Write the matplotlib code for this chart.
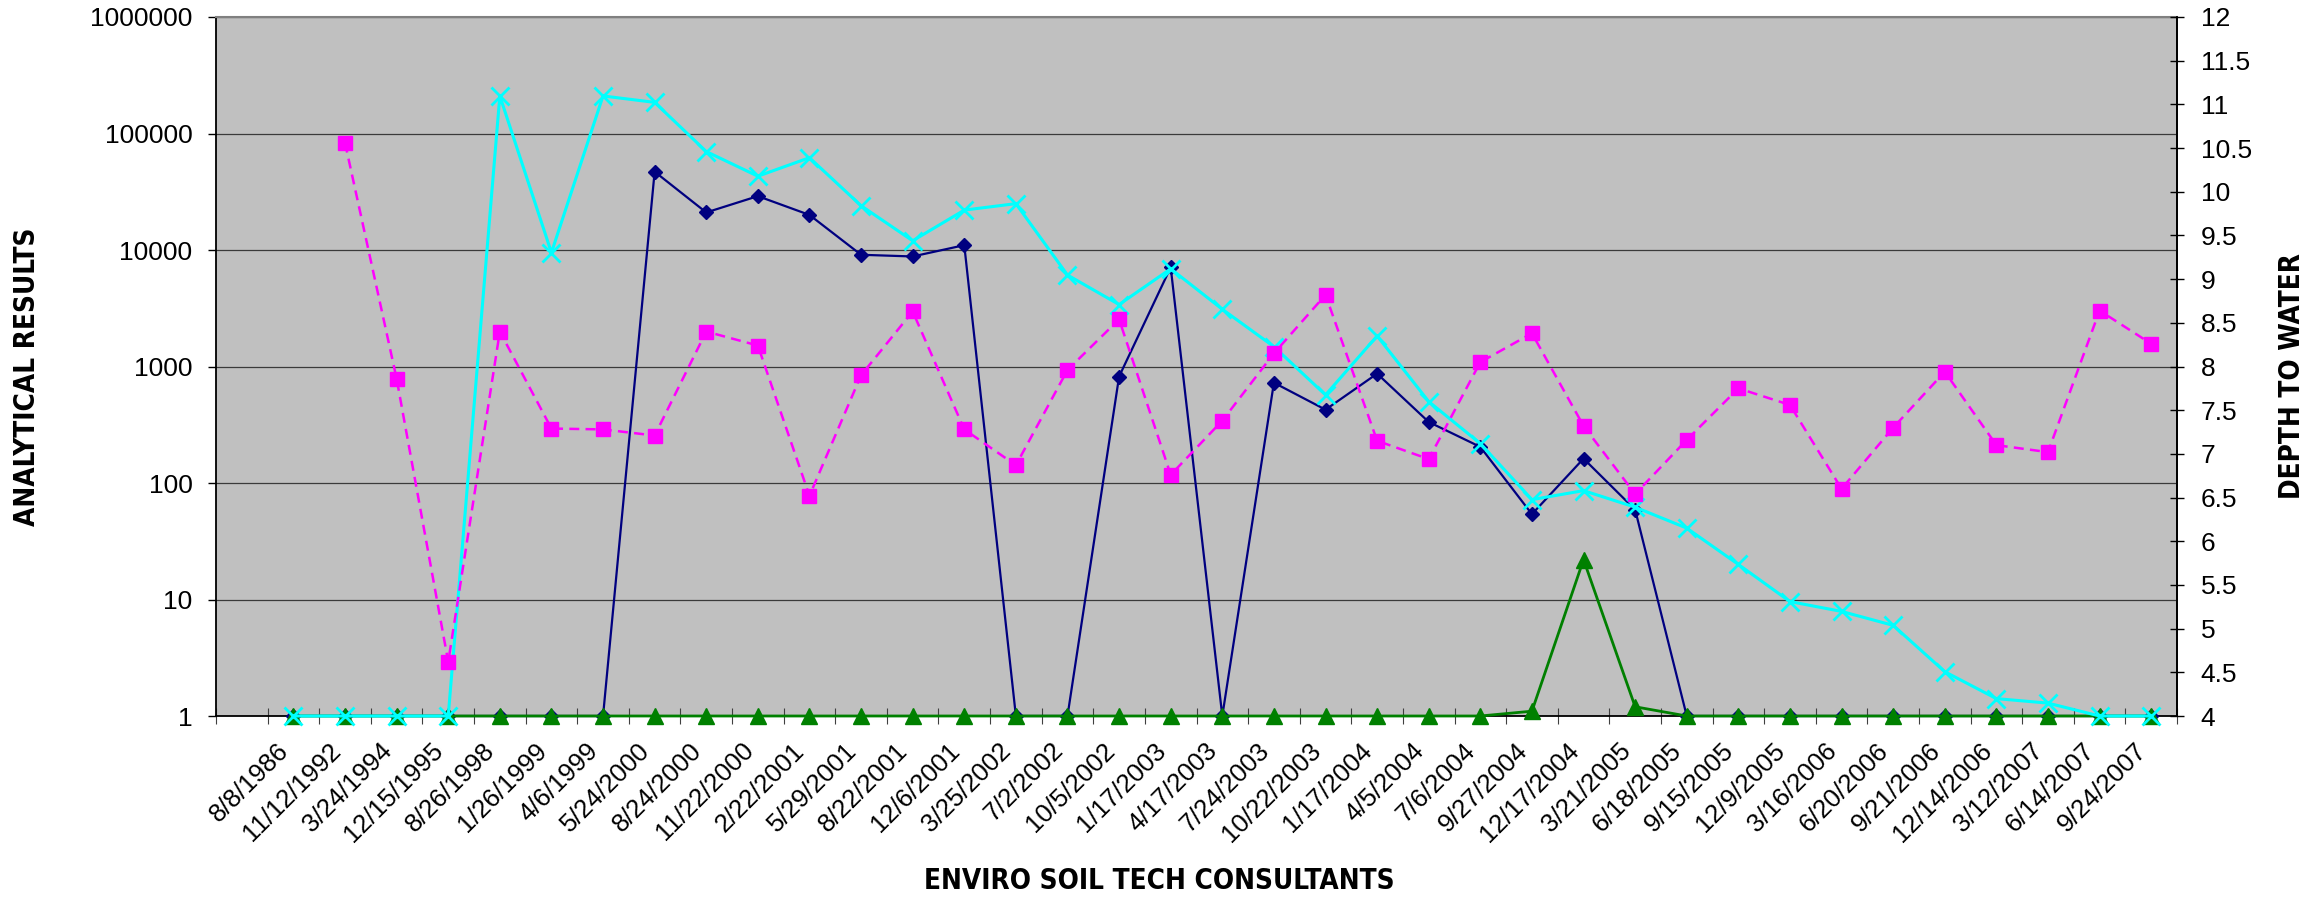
import numpy as np
import matplotlib
matplotlib.use("Agg")
import matplotlib.pyplot as plt
from matplotlib import font_manager as fm
from matplotlib.ticker import FixedLocator, NullLocator

nan = np.nan

dates = ["", "8/8/1986", "11/12/1992", "3/24/1994", "12/15/1995", "8/26/1998",
         "1/26/1999", "4/6/1999", "5/24/2000", "8/24/2000", "11/22/2000",
         "2/22/2001", "5/29/2001", "8/22/2001", "12/6/2001", "3/25/2002",
         "7/2/2002", "10/5/2002", "1/17/2003", "4/17/2003", "7/24/2003",
         "10/22/2003", "1/17/2004", "4/5/2004", "7/6/2004", "9/27/2004",
         "12/17/2004", "3/21/2005", "6/18/2005", "9/15/2005", "12/9/2005",
         "3/16/2006", "6/20/2006", "9/21/2006", "12/14/2006", "3/12/2007",
         "6/14/2007", "9/24/2007"]

navy_series = [nan, 1, 1, 1, 1, 1, 1, 1,
               47000, 21000, 29000, 20000, 9100, 8800, 11000,
               1, 1, 820, 7100, 1,
               726, 426, 868, 334, 204, 54, 162, 59,
               1, 1, 1, 1, 1, 1, 1, 1, 1, 1]

green_series = [nan] + [1] * 24 + [1.1, 22, 1.2] + [1] * 10

cyan_series = [nan, 1, 1, 1, 1,
               210000, 9500, 210000, 185000, 70000, 43000, 62000, 24000,
               12000, 22000, 25000,
               6100, 3400, 6900, 3100, 1480, 570, 1830, 500, 218, 72, 86, 62, 41,
               20, 9.6, 7.9, 6.0, 2.4, 1.41, 1.29, 1, 1]

depth_to_water = [nan, nan, 10.56, 7.86, 4.62, 8.40, 7.29, 7.28, 7.21, 8.40,
                  8.24, 6.52, 7.90, 8.63, 7.28, 6.87, 7.96, 8.54, 6.76, 7.38,
                  8.15, 8.82, 7.15, 6.94, 8.05, 8.38, 7.32, 6.54, 7.16, 7.75,
                  7.56, 6.60, 7.30, 7.94, 7.10, 7.02, 8.64, 8.26]

left_ticks = [1, 10, 100, 1000, 10000, 100000, 1000000]
right_ticks = [4, 4.5, 5, 5.5, 6, 6.5, 7, 7.5, 8, 8.5, 9, 9.5, 10, 10.5, 11, 11.5, 12]

# fonts
names = {f.name for f in fm.fontManager.ttflist}
base_font = "Liberation Sans" if "Liberation Sans" in names else "DejaVu Sans"
if "Liberation Sans Narrow" in names:
    title_kw = dict(family="Liberation Sans Narrow", fontweight="bold")
else:
    title_kw = dict(family="DejaVu Sans", fontweight="bold", fontstretch="condensed")
plt.rcParams["font.family"] = [base_font, "DejaVu Sans"]

W, H = 2322, 898
fig = plt.figure(figsize=(W / 100, H / 100), dpi=100)
L, R, T, B = 216, 2177, 17, 716
ax = fig.add_axes([L / W, 1 - B / H, (R - L) / W, (B - T) / H])
ax.set_facecolor("#C0C0C0")

x = np.arange(len(dates))

ax.plot(x, navy_series, color="#000080", lw=1.6, marker="D", ms=7.5,
        mec="#000080", mfc="#000080", zorder=3, clip_on=False)
ax.plot(x, green_series, color="#008000", lw=2.0, marker="^", ms=11,
        mec="#008000", mfc="#008000", zorder=4, clip_on=False)
ax.plot(x, cyan_series, color="#00FFFF", lw=2.2, marker="x", ms=13, mew=2,
        mec="#00FFFF", zorder=5, clip_on=False)

ax.set_yscale("log")
ax.set_ylim(1, 1e6)
ax.set_xlim(-0.5, len(dates) - 0.5)
ax.yaxis.set_major_locator(FixedLocator(left_ticks))
ax.yaxis.set_minor_locator(NullLocator())
ax.set_yticklabels([str(v) for v in left_ticks])
ax.tick_params(axis="y", which="major", direction="out", length=6, width=1,
               pad=11, labelsize=19, colors="black")
ax.yaxis.grid(True, which="major", color="#3a3a3a", lw=0.9)
ax.set_axisbelow(True)

ax.set_xticks(x)
ax.set_xticklabels(dates, rotation=45, ha="right", va="top", fontsize=18.5)
ax.tick_params(axis="x", which="major", length=0, pad=16)
ax.xaxis.set_minor_locator(FixedLocator(np.arange(len(dates) + 1) - 0.5))
ax.tick_params(axis="x", which="minor", direction="inout", length=11, width=0.8,
               color="#404040")

for side in ("left", "bottom", "right"):
    ax.spines[side].set_color("black")
    ax.spines[side].set_linewidth(1.3)
ax.spines["top"].set_color("#808080")
ax.spines["top"].set_linewidth(1.5)

ax2 = ax.twinx()
ax2.plot(x, depth_to_water, color="#FF00FF", lw=1.8, ls=(0, (4, 2.5)),
         marker="s", ms=10.5, mec="#FF00FF", mfc="#FF00FF", zorder=6)
ax2.set_ylim(4, 12)
ax2.set_yticks(right_ticks)
ax2.set_yticklabels(["%g" % v for v in right_ticks])
ax2.tick_params(axis="y", direction="inout", length=10, width=1, pad=12,
                labelsize=19, colors="black")
ax2.spines["right"].set_color("black")
ax2.spines["right"].set_linewidth(1.3)
ax2.spines["top"].set_visible(False)
ax2.spines["left"].set_visible(False)
ax2.spines["bottom"].set_visible(False)

fig.text(27 / W, 1 - 377 / H, "ANALYTICAL RESULTS", rotation=90, ha="center",
         va="center", fontsize=20, **title_kw)
fig.text(2292 / W, 1 - 376 / H, "DEPTH TO WATER", rotation=90, ha="center",
         va="center", fontsize=20, **title_kw)
fig.text(1159 / W, 1 - 881 / H, "ENVIRO SOIL TECH CONSULTANTS", ha="center",
         va="center", fontsize=20, **title_kw)

fig.savefig("out.png", dpi=100, facecolor="white")
